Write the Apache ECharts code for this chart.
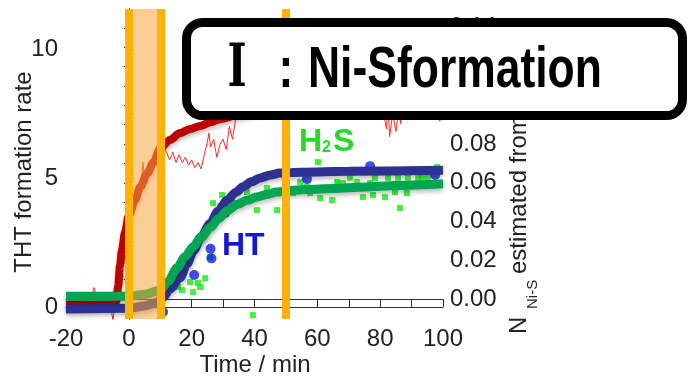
<!DOCTYPE html>
<html>
<head>
<meta charset="utf-8">
<script src="https://cdn.jsdelivr.net/npm/echarts@6/dist/echarts.min.js"></script>
<style>html,body{margin:0;padding:0;background:#fff;}#c{width:688px;height:379px;}</style>
</head>
<body>
<div id="c"></div>
<script>
// ---- data ----
const xTicks = [-20, -10, 0, 10, 20, 30, 40, 50, 60, 70, 80, 90, 100];
const leftLabels = [0, 5, 10];
const leftTicks = [0, 2.5, 5, 7.5, 10];
const rightLabels = [0, 0.02, 0.04, 0.06, 0.08, 0.10, 0.12, 0.14];
const rightTicks = [0, 0.01, 0.02, 0.03, 0.04, 0.05, 0.06, 0.07, 0.08, 0.09, 0.10, 0.11, 0.12, 0.13, 0.14];
const markerTimes = [0, 10, 50];
const shadedRange = [0, 10];

// THT formation rate, raw (thin red)
const thtRaw = [
  [-20,0.25],[-19,0.18],[-18,0.3],[-17,0.15],[-16,0.28],[-15,0.2],[-14,0.35],[-13,0.22],[-12,0.4],[-11,0.75],
  [-10,0.25],[-9,0.3],[-8,0.18],[-7,0.32],[-6,0.2],[-5,-0.55],[-4.5,0.3],[-4,0.5],[-3.5,1.2],[-3,1.9],
  [-2.5,2.4],[-2,2.7],[-1.5,2.3],[-1,3.0],[0,3.4],[1,3.9],[2,4.2],[3,4.6],[4,5.0],[4.5,5.6],
  [5,4.9],[6,5.3],[7,5.5],[8,5.8],[9,6.1],[10,5.9],[11,6.2],[12,6.0],[13,5.7],[14,6.0],
  [15,5.6],[16,5.9],[17,5.6],[18,5.8],[19,5.5],[20,5.7],[21,5.4],[22,5.6],[23,5.35],[24,5.9],
  [25,6.4],[25.5,6.75],[26,6.2],[27,6.5],[28,5.8],[29,6.3],[30,6.5],[31,6.1],[32,7.0],[33,6.5],
  [34,7.3],[35,7.6],[36,7.4],[37,7.9],[38,7.7],[39,8.1],[40,7.8],[41,8.2],[42,7.9],[43,8.3],
  [44,8.0],[45,8.4],[46,8.1],[47,8.5],[48,8.2],[49,8.4],[50,8.0],[51,8.6],[52,8.3],[53,8.5],
  [54,8.1],[55,8.6],[56,8.3],[57,8.7],[58,8.4],[59,8.6],[60,8.2],[61,8.7],[62,8.4],[63,8.8],
  [64,8.5],[65,8.6],[66,8.3],[67,8.7],[68,8.4],[69,8.8],[70,8.5],[71,8.7],[72,8.3],[73,8.6],
  [74,8.4],[75,8.7],[76,8.2],[77,8.6],[78,8.3],[79,8.5],[80,8.1],[81,7.6],[82,6.9],[82.5,7.8],
  [83,6.6],[84,7.5],[85,6.8],[86,7.7],[86.5,7.1],[87,8.0],[88,8.3],[89,8.1],[90,8.4],[91,8.2],
  [92,8.5],[93,8.1],[94,8.4],[95,8.0],[96,8.3],[97,7.9],[98,7.4],[99,7.2],[100,7.6]
];
// THT formation rate, fit (thick dark red)
const thtFit = [
  [-20,0.1],[-10,0.1],[-5,0.12],[-4,0.2],[-3.4,0.8],[-2.8,1.6],[-2.2,2.2],[-1.2,2.9],[0,3.55],[2,4.15],
  [3.6,4.65],[6,5.2],[7.8,5.6],[10,6.15],[13,6.47],[16.3,6.74],[19.5,6.9],[22.7,7.02],[26,7.16],[29,7.28],
  [35,7.45],[40,7.6],[50,7.8],[60,7.95],[80,8.1],[100,8.2]
];
// N(Ni-S) from HT, fit (navy) and points (blue)
const htFit = [
  [-20,-0.0052],[0,-0.0048],[5,-0.0036],[9,-0.0018],[11,0.001],[13,0.005],[16.3,0.011],[18.5,0.018],[20.6,0.025],[23,0.032],
  [25.9,0.039],[28.5,0.0455],[31.3,0.051],[34,0.055],[36.4,0.058],[39,0.0605],[41.8,0.0625],[45,0.064],[48,0.065],[55,0.0655],
  [70,0.066],[100,0.0665]
];
const htPts = [
  [10.9,-0.0067],[20.8,0.0124],[26.0,0.026],[26.3,0.021],[30.6,0.0444],[56.7,0.0619],[76.8,0.0686],[97.5,0.064]
];
// N(Ni-S) from H2S, fit (green) and points (bright green)
const h2sFit = [
  [-20,0.0015],[0,0.0015],[5,0.0025],[10,0.0046],[12.5,0.009],[15.3,0.016],[18,0.022],[20.5,0.027],[23,0.032],[25.9,0.037],
  [28.5,0.0415],[31.3,0.0456],[34.5,0.0488],[37.6,0.051],[41,0.0528],[44,0.054],[47,0.0552],[50.4,0.056],[57,0.0565],[65,0.057],
  [75,0.0578],[85,0.0586],[100,0.0595]
];
const h2sPts = [
  [13.7,0.0057],[15.7,0.0062],[16.9,0.0046],[19.5,0.0088],[20.4,0.0036],[22.0,0.0083],[22.7,0.0062],[24.3,0.0108],[25.8,0.0217],[26.8,0.0495],
  [29.1,0.048],[29.7,0.0537],[32.8,0.0521],[34.4,0.0495],[37.6,0.0552],[39.5,-0.0083],[40.8,0.0459],[44.0,0.0573],[45.9,0.0552],[47.2,0.0459],
  [50.4,0.0552],[52.3,0.0547],[54.5,0.0604],[56.7,0.0578],[57.7,0.0547],[58.6,0.0563],[60.2,0.0707],[60.9,0.0521],[64.7,0.0511],[66.3,0.0604],
  [66.6,0.0599],[68.2,0.0599],[70.4,0.0625],[72.6,0.0604],[74.5,0.0526],[76.8,0.0599],[77.7,0.0537],[78.3,0.0625],[81.5,0.0526],[82.5,0.0625],
  [84.7,0.0552],[85.7,0.0625],[86.3,0.047],[88.5,0.0547],[88.8,0.0625],[92.1,0.0625],[93.3,0.063],[95.2,0.063],[98.1,0.0681]
];

// ---- chart ----
const FONT = '"Liberation Sans", Arial, Helvetica, sans-serif';
const chart = echarts.init(document.getElementById('c'), null, {renderer: 'canvas'});
const axisLineStyle = {color: '#333', width: 1};
const labelStyle = {fontSize: 24, color: '#222', fontFamily: FONT};

const option = {
  animation: false,
  backgroundColor: '#fff',
  grid: {left: 66, top: 9, width: 377, height: 310, containLabel: false},
  xAxis: [
    {type: 'value', position: 'bottom', min: -20, max: 100, interval: 20,
     axisLine: {show: true, lineStyle: axisLineStyle},
     axisTick: {show: true, inside: true, length: 5, lineStyle: axisLineStyle, customValues: xTicks},
     axisLabel: Object.assign({margin: 8}, labelStyle),
     splitLine: {show: false}},
    {type: 'value', position: 'top', min: -20, max: 100, interval: 20,
     axisLine: {show: true, lineStyle: axisLineStyle},
     axisTick: {show: true, inside: true, length: 5, lineStyle: axisLineStyle, customValues: xTicks},
     axisLabel: {show: false}, splitLine: {show: false}}
  ],
  yAxis: [
    {type: 'value', position: 'left', min: -0.465, max: 11.55,
     axisLine: {show: true, lineStyle: axisLineStyle},
     axisTick: {show: true, inside: true, length: 5, lineStyle: axisLineStyle, customValues: leftTicks},
     axisLabel: Object.assign({margin: 8, customValues: leftLabels}, labelStyle),
     splitLine: {show: false}},
    {type: 'value', position: 'right', min: -0.0103, max: 0.1497,
     axisLine: {show: true, lineStyle: axisLineStyle},
     axisTick: {show: true, inside: true, length: 5, lineStyle: axisLineStyle, customValues: rightTicks},
     axisLabel: Object.assign({margin: 7, customValues: rightLabels, formatter: v => v.toFixed(2)}, labelStyle),
     splitLine: {show: false}}
  ],
  series: [
    {name: 'H2S points', type: 'scatter', yAxisIndex: 1, data: h2sPts, symbol: 'rect', symbolSize: 6,
     itemStyle: {color: '#12EE12'}, z: 2},
    {name: 'HT points', type: 'scatter', yAxisIndex: 1, data: htPts, symbol: 'circle', symbolSize: 10,
     itemStyle: {color: '#0A1EE8'}, z: 2},
    {name: 'THT raw', type: 'line', yAxisIndex: 0, data: thtRaw, showSymbol: false, symbol: 'none',
     lineStyle: {width: 1, color: '#FF2A2A'}, z: 3},
    {name: 'THT fit', type: 'line', yAxisIndex: 0, data: thtFit, showSymbol: false, symbol: 'none',
     smooth: 0.3, smoothMonotone: 'x',
     lineStyle: {width: 8, color: '#C00000', shadowColor: 'rgba(0,0,0,0.25)', shadowBlur: 4, shadowOffsetY: 3}, z: 4},
    {name: 'HT fit', type: 'line', yAxisIndex: 1, data: htFit, showSymbol: false, symbol: 'none',
     smooth: 0.3, smoothMonotone: 'x',
     lineStyle: {width: 9, color: '#2E3192', shadowColor: 'rgba(0,0,0,0.25)', shadowBlur: 4, shadowOffsetY: 3}, z: 4},
    {name: 'H2S fit', type: 'line', yAxisIndex: 1, data: h2sFit, showSymbol: false, symbol: 'none',
     smooth: 0.3, smoothMonotone: 'x',
     lineStyle: {width: 9, color: '#00A651', shadowColor: 'rgba(0,0,0,0.25)', shadowBlur: 4, shadowOffsetY: 3}, z: 5},
    {name: 'markers', type: 'line', yAxisIndex: 0, data: [], z: 10,
     markArea: {silent: true, z: 10, itemStyle: {color: 'rgba(245,165,60,0.55)'},
       data: [[{xAxis: shadedRange[0]}, {xAxis: shadedRange[1]}]]},
     markLine: {silent: true, z: 11, symbol: 'none', label: {show: false},
       lineStyle: {color: '#FFB300', width: 8, type: 'solid'},
       data: markerTimes.map(t => ({xAxis: t}))}}
  ],
  graphic: [
    // axis names
    {type: 'text', x: 24.5, y: 172, rotation: Math.PI / 2, z: 50,
     style: {text: 'THT formation rate', font: '24px ' + FONT, fill: '#222', textAlign: 'center', textVerticalAlign: 'middle'}},
    {type: 'text', x: 255, y: 365.5, z: 50,
     style: {text: 'Time / min', font: '24px ' + FONT, fill: '#222', textAlign: 'center', textVerticalAlign: 'middle'}},
    {type: 'text', x: 519.5, y: 334, rotation: Math.PI / 2, z: 50,
     style: {text: 'N', font: '24px ' + FONT, fill: '#222', textAlign: 'left', textVerticalAlign: 'middle'}},
    {type: 'text', x: 533, y: 309, rotation: Math.PI / 2, z: 50,
     style: {text: 'Ni-S', font: '15px ' + FONT, fill: '#222', textAlign: 'left', textVerticalAlign: 'middle'}},
    {type: 'text', x: 519.5, y: 274, rotation: Math.PI / 2, z: 50,
     style: {text: 'estimated from EXAFS', font: '24px ' + FONT, fill: '#222', textAlign: 'left', textVerticalAlign: 'middle'}},
    // in-plot labels
    {type: 'text', x: 222, y: 246.5, z: 50,
     style: {text: 'HT', font: 'bold 32px ' + FONT, fill: '#1515E0', textAlign: 'left', textVerticalAlign: 'middle'}},
    {type: 'text', x: 299, y: 142.3, z: 50,
     style: {text: 'H', font: 'bold 32px ' + FONT, fill: '#22DD22', textAlign: 'left', textVerticalAlign: 'middle'}},
    {type: 'text', x: 322, y: 147.3, z: 50,
     style: {text: '2', font: 'bold 16px ' + FONT, fill: '#22DD22', textAlign: 'left', textVerticalAlign: 'middle'}},
    {type: 'text', x: 333, y: 142.3, z: 50,
     style: {text: 'S', font: 'bold 32px ' + FONT, fill: '#22DD22', textAlign: 'left', textVerticalAlign: 'middle'}},
    // title box
    {type: 'rect', z: 100, shape: {x: 186.5, y: 22.5, width: 496, height: 93, r: 16},
     style: {fill: '#fff', stroke: '#000', lineWidth: 9}},
    {type: 'text', x: 237, y: 70, z: 101, scaleX: 0.68,
     style: {text: 'Ⅰ', font: 'bold 60px "DejaVu Sans Mono", "DejaVu Serif", "Noto Sans CJK JP", monospace', fill: '#000', textAlign: 'center', textVerticalAlign: 'middle'}},
    {type: 'text', x: 286, y: 71.2, z: 101, scaleX: 0.78,
     style: {text: ':', font: 'bold 57px ' + FONT, fill: '#000', textAlign: 'center', textVerticalAlign: 'middle'}},
    {type: 'text', x: 308, y: 71.2, z: 101, scaleX: 0.78,
     style: {text: 'Ni-Sformation', font: 'bold 57px ' + FONT, fill: '#000', textAlign: 'left', textVerticalAlign: 'middle'}}
  ]
};
chart.setOption(option);
</script>
</body>
</html>
